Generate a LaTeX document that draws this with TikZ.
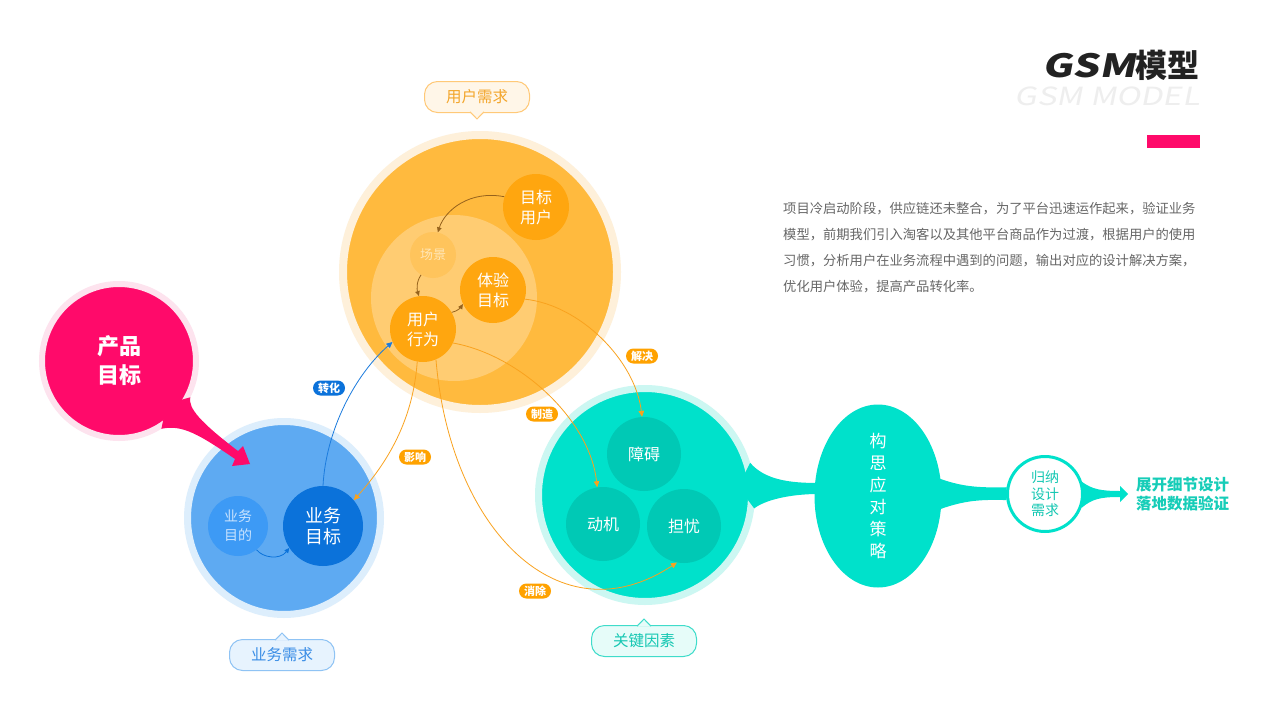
\documentclass[tikz,border=0pt]{standalone}
\usepackage{fontspec}
\setmainfont{Noto Sans CJK SC}
\newfontfamily\gsmfont{Noto Sans CJK SC}[FakeSlant=0.2,FakeStretch=1.3]
\usetikzlibrary{positioning,shapes.geometric,arrows.meta,calc}

\definecolor{titlec}{HTML}{222222}
\definecolor{wmark}{HTML}{EEEEEE}
\definecolor{parac}{HTML}{666666}
\definecolor{pinkc}{HTML}{FF0A6A}
\definecolor{pinkring}{HTML}{FDE3EE}
\definecolor{orgc}{HTML}{FFBA3E}
\definecolor{orgring}{HTML}{FEF0DA}
\definecolor{orglight}{HTML}{FFCC72}
\definecolor{orgnode}{HTML}{FFA60F}
\definecolor{orgscene}{HTML}{FFC45C}
\definecolor{orgscenetxt}{HTML}{FFE6B5}
\definecolor{orgline}{HTML}{F9A21E}
\definecolor{orgpill}{HTML}{FFA200}
\definecolor{brownc}{HTML}{96621C}
\definecolor{orgtagbg}{HTML}{FFF6E8}
\definecolor{orgborder}{HTML}{FFC978}
\definecolor{orgtext}{HTML}{F3A52A}
\definecolor{bluec}{HTML}{5EAAF2}
\definecolor{bluering}{HTML}{DDEEFC}
\definecolor{bluemid}{HTML}{3D9AF5}
\definecolor{bluedark}{HTML}{0B72DA}
\definecolor{bluetxt}{HTML}{C9E3FE}
\definecolor{blueline}{HTML}{1B7BDD}
\definecolor{bluetagbg}{HTML}{E7F3FE}
\definecolor{blueborder}{HTML}{8FC3F4}
\definecolor{bluetext}{HTML}{3A8DE6}
\definecolor{tealc}{HTML}{00E1CB}
\definecolor{tealring}{HTML}{CCF7F2}
\definecolor{tealnode}{HTML}{00C9B5}
\definecolor{tealtagbg}{HTML}{E6FCF9}
\definecolor{tealborder}{HTML}{3FDCCA}
\definecolor{tealtext}{HTML}{14C7B2}
\definecolor{tealdeep}{HTML}{16CDB8}

\begin{document}
\begin{tikzpicture}[x=1pt,y=-1pt]
    \tikzstyle{bubble}=[circle,inner sep=0pt,align=center,text=white]
    \tikzstyle{tagbox}=[rounded corners=13pt,draw,line width=1pt,minimum width=105pt,minimum height=31pt,inner sep=0pt,font=\fontsize{15.5}{16}\selectfont]
    \tikzstyle{pill}=[rounded corners=7.5pt,minimum width=32pt,minimum height=15pt,inner sep=0pt,text=white,font=\fontsize{11}{11}\selectfont\bfseries]
    \tikzstyle{curvearrow}=[line width=0.8pt,-{Triangle[length=6pt,width=5.5pt]}]
    \tikzstyle{inarrow}=[line width=0.8pt,brownc,-{Triangle[length=5pt,width=4.5pt]}]

    \fill[white] (0,0) rectangle (1280,720);
    \useasboundingbox (0,0) rectangle (1280,720);

    \node[anchor=base east,inner sep=0pt,text=wmark,font=\gsmfont\fontsize{25}{25}\selectfont] (wm) at (1200,105) {GSM MODEL};
    \node[anchor=base east,inner sep=0pt,text=titlec,font=\fontsize{32}{32}\selectfont\bfseries] (title) at (1200,77) {{\gsmfont GSM}模型};
    \fill[pinkc] (1147,135) rectangle (1200,148);
    \node[anchor=north west,inner sep=0pt,align=left,text=parac,font=\fontsize{13.3}{26}\selectfont] (desc) at (783,202)
        {项目冷启动阶段，供应链还未整合，为了平台迅速运作起来，验证业务\\
         模型，前期我们引入淘客以及其他平台商品作为过渡，根据用户的使用\\
         习惯，分析用户在业务流程中遇到的问题，输出对应的设计解决方案，\\
         优化用户体验，提高产品转化率。};

    \node[bubble,fill=orgc,draw=orgring,line width=8pt,minimum size=274pt] (need) at (480,272) {};
    \node[bubble,fill=orglight,minimum size=166pt] (core) at (454,298) {};
    \node[bubble,fill=orgnode,minimum size=66pt,font=\fontsize{16}{20}\selectfont] (tuser) at (536,207) {目标\\用户};
    \node[bubble,fill=orgscene,minimum size=46pt,text=orgscenetxt,font=\fontsize{13}{13}\selectfont] (scene) at (433,255) {场景};
    \node[bubble,fill=orgnode,minimum size=66pt,font=\fontsize{16}{20}\selectfont] (exp) at (493,290) {体验\\目标};
    \node[bubble,fill=orgnode,minimum size=66pt,font=\fontsize{16}{20}\selectfont] (act) at (423,329) {用户\\行为};

    \draw[inarrow] (tuser.162) .. controls (470,190) and (445,210) .. (scene.78);
    \draw[inarrow] (scene.-121) .. controls (416,282) and (417,290) .. (act.97);
    \draw[inarrow] (act.30) .. controls (458,311) and (461,307) .. (exp.-155);

    \node[bubble,fill=bluec,draw=bluering,line width=7pt,minimum size=193pt] (biz) at (284,518) {};
    \node[bubble,fill=bluemid,minimum size=60pt,text=bluetxt,font=\fontsize{14}{19}\selectfont] (bpur) at (238,526) {业务\\目的};
    \node[bubble,fill=bluedark,minimum size=80pt,font=\fontsize{18}{21}\selectfont] (bgoal) at (323,526) {业务\\目标};
    \draw[line width=0.8pt,bluedark,-{Triangle[length=5pt,width=4.5pt]}] (bpur.-52) .. controls (263,558) and (280,560) .. (bgoal.-147);

    \node[bubble,fill=pinkc,draw=pinkring,line width=6pt,minimum size=154pt,font=\fontsize{22}{29}\selectfont\bfseries] (goal) at (119,361) {产品\\目标};
    \coordinate (ptip) at (250,464);
    \fill[pinkc] ($(goal)!0.8!(goal.-42)$) -- (goal.-27) .. controls (188,408) and (200,422) .. (238,451)
        -- (243,446) -- (ptip) -- (232,466) -- (235,459) .. controls (200,435) and (182,424) .. (goal.-58) -- cycle;

    \node[bubble,fill=tealc,draw=tealring,line width=7pt,minimum size=213pt] (key) at (645,495) {};
    \node[ellipse,fill=tealc,minimum width=127pt,minimum height=183pt,inner sep=0pt,align=center,text=white,font=\fontsize{17}{22}\selectfont] (plan) at (878,496) {构\\思\\应\\对\\策\\略};
    \node[bubble,fill=white,draw=tealc,line width=3pt,minimum size=75pt,text=tealtext,font=\fontsize{14}{16.5}\selectfont] (ind) at (1045,494) {归纳\\设计\\需求};
    \coordinate (tip) at (1128,494);

    \fill[tealc] ($(key)!0.85!(key.5)$) -- (key.17) .. controls (765,480) and (790,483) .. ($(plan.west)+(4,-13)$)
        -- ($(plan.west)+(4,-2)$) .. controls (790,494) and (765,500) .. (key.-7) -- cycle;
    \fill[tealc] ($(plan.east)+(-4,-18)$) .. controls (960,486) and (975,488) .. (ind.170)
        -- (ind.-171) .. controls (975,499) and (960,502) .. ($(plan.east)+(-4,14)$) -- cycle;
    \fill[tealc] (ind.18) .. controls (1092,489) and (1100,491) .. (1120,491) -- (1120,486) -- (tip)
        -- (1120,502) -- (1120,497) .. controls (1100,497) and (1092,499) .. (ind.-21) -- cycle;

    \node[bubble,fill=tealnode,minimum size=74pt,font=\fontsize{16}{16}\selectfont] (block) at (644,454) {障碍};
    \node[bubble,fill=tealnode,minimum size=74pt,font=\fontsize{16}{16}\selectfont] (motive) at (603,524) {动机};
    \node[bubble,fill=tealnode,minimum size=74pt,font=\fontsize{16}{16}\selectfont] (worry) at (684,526) {担忧};

    \node[right=8pt of tip,inner sep=0pt,align=left,text=tealdeep,font=\fontsize{15.5}{19}\selectfont\bfseries] (out) {展开细节设计\\落地数据验证};

    \draw[curvearrow,orgline] (act.-100) .. controls (413,420) and (388,462) .. (bgoal.40);
    \draw[curvearrow,blueline] (bgoal.90) .. controls (326,430) and (355,375) .. (act.-157);
    \draw[curvearrow,orgline] (act.-25) .. controls (520,355) and (590,420) .. (motive.99);
    \draw[curvearrow,orgline] (exp.-16) .. controls (580,305) and (635,360) .. (block.93);
    \draw[curvearrow,orgline] (act.-67) .. controls (450,530) and (560,640) .. (worry.-101);

    \node[pill,fill=bluedark] (p1) at (329,388) {转化};
    \node[pill,fill=orgpill] (p2) at (415,457) {影响};
    \node[pill,fill=orgpill] (p3) at (542,414) {制造};
    \node[pill,fill=orgpill] (p4) at (642,356) {解决};
    \node[pill,fill=orgpill] (p5) at (535,591) {消除};

    \node[tagbox,draw=orgborder,fill=orgtagbg,text=orgtext] (utag) at (477,97) {用户需求};
    \fill[orgtagbg,draw=orgborder,line width=1pt] ($(utag.south)+(-7,-1.2)$) -- ($(utag.south)+(0,6)$) -- ($(utag.south)+(7,-1.2)$);
    \node[tagbox,draw=blueborder,fill=bluetagbg,text=bluetext] (btag) at (282,655) {业务需求};
    \fill[bluetagbg,draw=blueborder,line width=1pt] ($(btag.north)+(-7,1.2)$) -- ($(btag.north)+(0,-6)$) -- ($(btag.north)+(7,1.2)$);
    \node[tagbox,draw=tealborder,fill=tealtagbg,text=tealtext] (ktag) at (644,641) {关键因素};
    \fill[tealtagbg,draw=tealborder,line width=1pt] ($(ktag.north)+(-7,1.2)$) -- ($(ktag.north)+(0,-6)$) -- ($(ktag.north)+(7,1.2)$);
\end{tikzpicture}
\end{document}
